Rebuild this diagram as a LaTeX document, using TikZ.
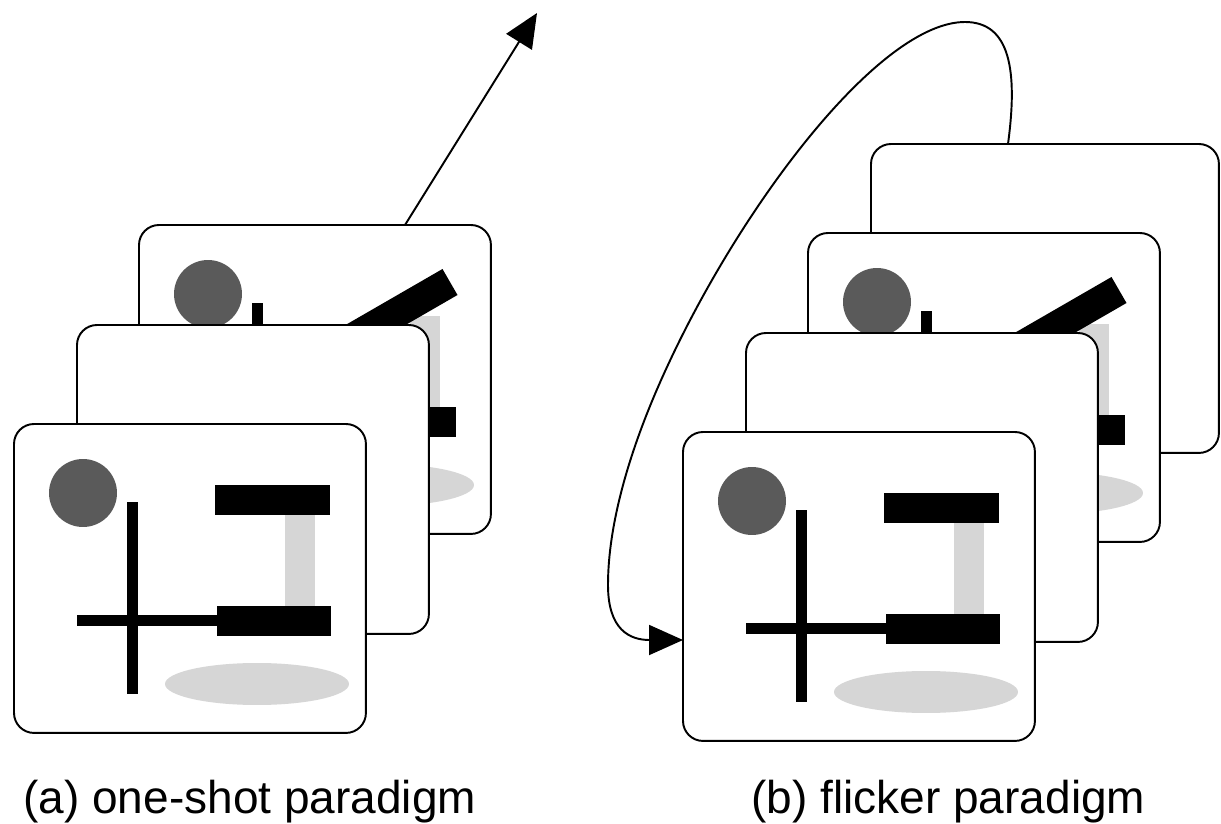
\documentclass[tikz,border=0pt]{standalone}
\usepackage{fontspec}
\setmainfont{Liberation Sans}
\usetikzlibrary{arrows.meta,calc}

\definecolor{discgray}{RGB}{90,90,90}
\definecolor{shadegray}{RGB}{214,214,214}

\tikzset{
  card/.style={draw=black, line width=1.1pt, fill=white, rounded corners=0.4cm,
    minimum width=7.04cm, minimum height=6.18cm, anchor=north west,
    inner sep=0pt, outer sep=0pt},
  widecard/.style={card, minimum width=6.96cm},
  flow/.style={line width=1.1pt, -{Triangle[length=0.68cm,width=0.6cm]}},
  caption/.style={anchor=base west, inner sep=0pt, font=\fontsize{26.2}{30}\selectfont},
}

% scene items shared by every picture card (coordinates from the card's top-left corner)
\newcommand{\scenebase}{%
  \fill[shadegray] (271,91) rectangle (301,182);
  \fill[shadegray] (243,260) ellipse [x radius=1.84cm, y radius=0.42cm];
  \fill[discgray] (69,69) circle [radius=0.68cm];
  \fill[black] (113,78) rectangle (124,270);
  \fill[black] (63,191) rectangle (203,202);
  \fill[black] (203,182) rectangle (317,212);
}
% upper bar, level
\newcommand{\scenelevel}{\fill[black] (201,61) rectangle (316,91);}
% upper bar, tilted by 30 degrees
\newcommand{\scenetilt}{\fill[black] (303.5,44) -- (318.5,70) -- (218.9,127.5) -- (203.9,101.5) -- cycle;}

\begin{document}
\begin{tikzpicture}[x=0.02cm, y=-0.02cm]
\useasboundingbox (0,0) rectangle (1221,824);

% ---- (a) one-shot paradigm ----
\node[card] (A3) at (139,225) {};
\begin{scope}[shift={(A3.north west)}]
  \scenebase \scenetilt
\end{scope}
\node[card] (A2) at (77,325) {};
\node[card] (A1) at (14,424) {};
\begin{scope}[shift={(A1.north west)}]
  \scenebase \scenelevel
\end{scope}

\coordinate (away) at (537,13);
\draw[flow] ($(A3.north west)+(266,0)$) -- (away);

% ---- (b) flicker paradigm ----
\node[widecard] (B4) at (871,144) {};
\node[card] (B3) at (808,233) {};
\begin{scope}[shift={(B3.north west)}]
  \scenebase \scenetilt
\end{scope}
\node[card] (B2) at (746,333) {};
\node[card] (B1) at (683,432) {};
\begin{scope}[shift={(B1.north west)}]
  \scenebase \scenelevel
\end{scope}

\draw[flow] ($(B4.north west)+(137,0)$)
  .. controls (1018,70) and (1010,22) .. (965,22)
  .. controls (880,22) and (742.6,203.2) .. (667,367)
  .. controls (629,449) and (608,525) .. (608,585)
  .. controls (608,630) and (630,640) .. ($(B1.north west)+(0,208)$);

% ---- captions ----
\node[caption] (capA) at (23,813) {(a) one-shot paradigm};
\node[caption] (capB) at (751,813) {(b) flicker paradigm};
\end{tikzpicture}
\end{document}
